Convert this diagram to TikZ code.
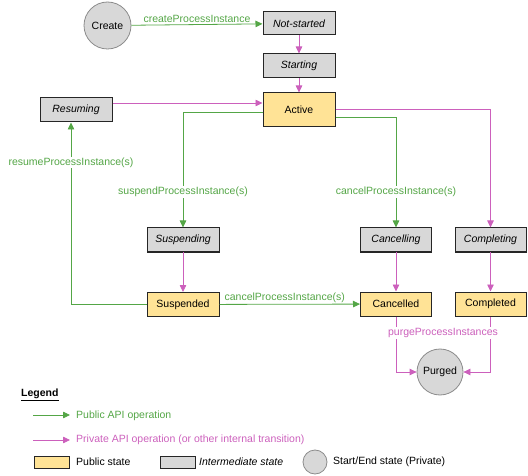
\documentclass[tikz,border=0pt]{standalone}
\usepackage{fontspec}
\setmainfont{Liberation Sans}
\usetikzlibrary{arrows.meta}
\definecolor{pubg}{RGB}{84,166,70}
\definecolor{privp}{RGB}{204,96,188}
\definecolor{pubfill}{RGB}{255,227,150}
\definecolor{intfill}{RGB}{216,216,216}
\tikzset{
  base/.style={rectangle, draw=black!85, line width=1pt, minimum width=72pt, minimum height=24pt, inner sep=0pt, font=\fontsize{10.5}{12}\selectfont},
  pubstate/.style={base, fill=pubfill},
  intstate/.style={base, fill=intfill, font=\fontsize{10.5}{12}\selectfont\itshape},
  endstate/.style={circle, draw=black!45, line width=0.8pt, fill=intfill, minimum size=47pt, inner sep=0pt, font=\fontsize{10.5}{12}\selectfont},
  pub/.style={draw=pubg, line width=0.8pt, -{Triangle[length=7pt,width=6.5pt]}},
  priv/.style={draw=privp, line width=0.8pt, -{Triangle[length=7pt,width=6.5pt]}},
  lab/.style={font=\fontsize{10.5}{12}\selectfont, inner sep=1pt, fill=white},
  publab/.style={lab, text=pubg},
  privlab/.style={lab, text=privp},
}
\begin{document}
\begin{tikzpicture}[x=1pt,y=-1pt]
\useasboundingbox (0,0) rectangle (528,476);
% states
\node[endstate] (create) at (107.5,25.5) {Create};
\node[intstate, minimum height=23pt] (notstarted) at (299,23.5) {Not-started};
\node[intstate] (starting) at (299,66) {Starting};
\node[pubstate, minimum height=34pt] (active) at (299,110) {Active};
\node[intstate] (resuming) at (76,110) {Resuming};
\node[intstate] (suspending) at (183,240) {Suspending};
\node[pubstate] (suspended) at (183,304.5) {Suspended};
\node[intstate, minimum width=71pt] (cancelling) at (396,240) {Cancelling};
\node[pubstate, minimum width=71pt] (cancelled) at (396,304) {Cancelled};
\node[intstate, minimum width=71pt] (completing) at (490.5,240) {Completing};
\node[pubstate, minimum width=71pt] (completed) at (490.5,304) {Completed};
\node[endstate, minimum size=46pt] (purged) at (440,372) {Purged};
% transitions
\draw[pub] (create) -- node[publab, above=1pt, fill=none] {createProcessInstance} (notstarted);
\draw[priv] (notstarted) -- (starting);
\draw[priv] (starting) -- (active);
\draw[priv] ([yshift=7pt]resuming.east) -- ([yshift=7pt]active.west);
\draw[priv] ([yshift=1pt]active.east) -| (completing);
\draw[pub] ([yshift=-2pt]active.west) -| node[publab, pos=0.845] {suspendProcessInstance(s)} (suspending);
\draw[pub] ([yshift=-7pt]active.east) -| node[publab, pos=0.838] {cancelProcessInstance(s)} (cancelling);
\draw[priv] (suspending) -- (suspended);
\draw[priv] (cancelling) -- (cancelled);
\draw[priv] (completing) -- (completed);
\draw[pub] (suspended) -- node[publab, above=0pt, fill=none, xshift=-5pt] {cancelProcessInstance(s)} (cancelled);
\draw[pub] (suspended.west) -| node[publab, pos=0.89] {resumeProcessInstance(s)} ([xshift=-5pt]resuming.south);
\draw[priv] (cancelled.south) |- (purged.west);
\draw[priv] (completed.south) |- (purged.east);
\node[privlab] (purgelab) at (443,333) {purgeProcessInstances};
% legend
\node[anchor=west, font=\fontsize{10.5}{12}\selectfont\bfseries, inner sep=0pt] (legend) at (21,395) {\underline{Legend}};
\coordinate (g1) at (33,415); \coordinate (g2) at (70,415);
\draw[pub] (g1) -- (g2);
\node[publab, anchor=west, fill=none] (gtxt) at (75,416) {Public API operation};
\coordinate (p1) at (33,440); \coordinate (p2) at (70,440);
\draw[priv] (p1) -- (p2);
\node[privlab, anchor=west, fill=none] (ptxt) at (75,440) {Private API operation (or other internal transition)};
\node[pubstate, minimum width=35pt, minimum height=12pt, line width=0.8pt] (lpub) at (51.5,462) {};
\node[lab, anchor=west, fill=none] (lpubtxt) at (75,462) {Public state};
\node[intstate, minimum width=35pt, minimum height=12pt, line width=0.8pt] (lint) at (177.5,462) {};
\node[lab, anchor=west, fill=none, font=\fontsize{10.5}{12}\selectfont\itshape] (linttxt) at (198,462) {Intermediate state};
\node[endstate, minimum size=24pt] (lend) at (315,462) {};
\node[lab, anchor=west, fill=none] (lendtxt) at (332,462) {Start/End state (Private)};
\end{tikzpicture}
\end{document}
